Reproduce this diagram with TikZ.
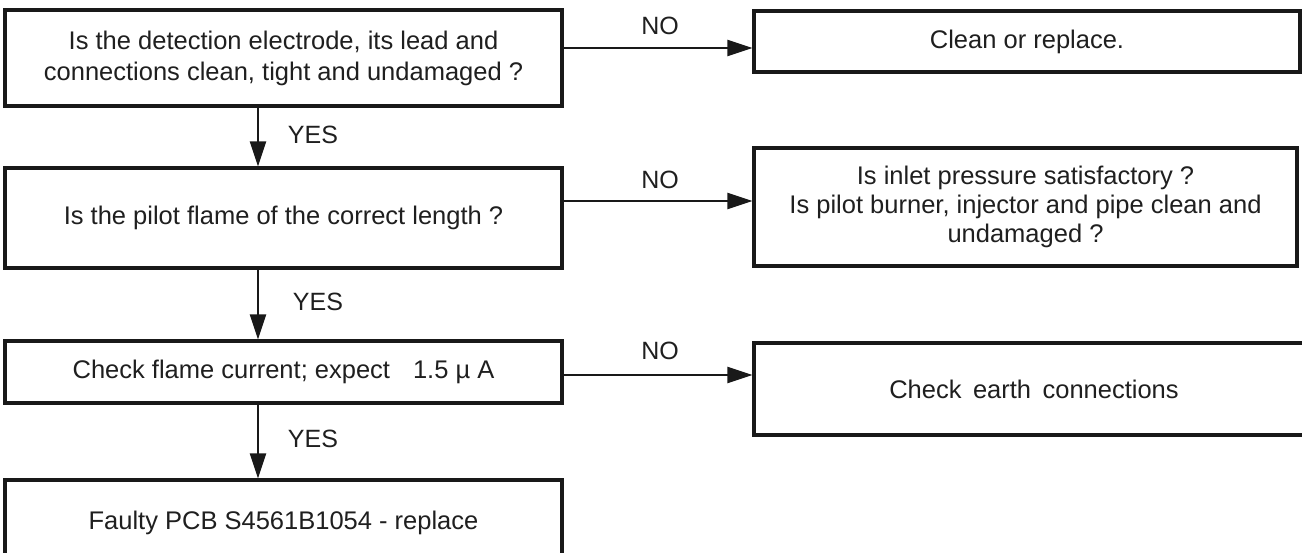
\documentclass[tikz,border=0pt]{standalone}
\usepackage{fontspec}
\setmainfont{Liberation Sans}
\usetikzlibrary{arrows.meta}
\begin{document}
\begin{tikzpicture}[x=1pt,y=-1pt,
  box/.style={draw=black!90, line width=3.1pt, inner sep=0pt, align=center,
    text=black!88, font=\fontsize{25.5}{31}\selectfont},
  lbl/.style={inner sep=0pt, text=black!88, font=\fontsize{25}{30}\selectfont},
  arr/.style={draw=black!90, line width=2.3pt, -{Triangle[length=25pt,width=16pt]}}]
\useasboundingbox (0,0) rectangle (1302,552);
\clip (0,0) rectangle (1302,552);
\fill[white] (0,0) rectangle (1302,552);

\node[box, minimum width=557pt, minimum height=96pt] (b1) at (283.5,58)
  {Is the detection electrode, its lead and\\connections clean, tight and undamaged ?};
\node[box, minimum width=546pt, minimum height=61pt] (r1) at (1027,41.5)
  {Clean or replace.};
\node[box, minimum width=557pt, minimum height=100pt] (b2) at (283.5,218)
  {Is the pilot flame of the correct length ?};
\node[box, minimum width=543pt, minimum height=118pt, font=\fontsize{25.5}{29}\selectfont] (r2) at (1025.5,207)
  {Is inlet pressure satisfactory ?\\Is pilot burner, injector and pipe clean and\\undamaged ?};
\node[box, minimum width=557pt, minimum height=62pt] (b3) at (283.5,372)
  {Check flame current; expect\hspace{0.9em}1.5 µ A};
\node[box, minimum width=560pt, minimum height=92pt] (r3) at (1034,389)
  {Check\hspace{0.45em}earth\hspace{0.45em}connections};
\node[box, minimum width=557pt, minimum height=80pt, text depth=0pt] (b4) at (283.5,520)
  {Faulty PCB S4561B1054 - replace};

\coordinate (ax) at (258,0);
\draw[arr] (ax |- b1.south) -- (ax |- b2.north);
\draw[arr] (ax |- b2.south) -- (ax |- b3.north);
\draw[arr] (ax |- b3.south) -- (ax |- b4.north);

\draw[arr] (b1.east |- 0,48) -- (r1.west |- 0,48);
\draw[arr] (b2.east |- 0,201) -- (r2.west |- 0,201);
\draw[arr] (b3.east |- 0,375) -- (r3.west |- 0,375);

\node[lbl] (y1) at (313,135) {YES};
\node[lbl] (y2) at (318,302) {YES};
\node[lbl] (y3) at (313,439) {YES};
\node[lbl] (n1) at (660,26) {NO};
\node[lbl] (n2) at (660,180) {NO};
\node[lbl] (n3) at (660,351) {NO};
\end{tikzpicture}
\end{document}
